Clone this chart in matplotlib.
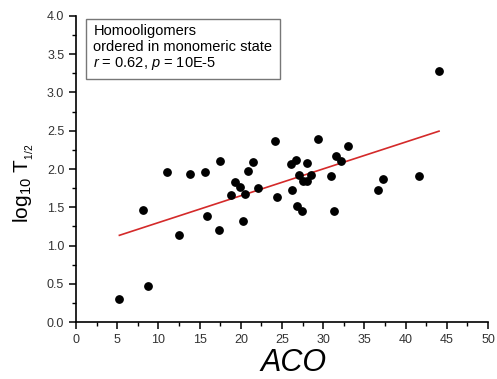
import numpy as np
import matplotlib.pyplot as plt
from matplotlib.ticker import MultipleLocator

plt.rcParams['font.family'] = ['Liberation Sans', 'DejaVu Sans']
plt.rcParams['mathtext.fontset'] = 'custom'
plt.rcParams['mathtext.rm'] = 'Liberation Sans'
plt.rcParams['mathtext.it'] = 'Liberation Sans:italic'

# ACO vs log10 T1/2 for homooligomers
aco = [5.26, 8.78, 8.09, 11.0, 12.5, 13.83, 15.6, 15.9, 17.5, 17.3,
       18.8, 19.3, 19.9, 20.5, 20.3, 20.9, 21.5, 22.1, 24.2, 24.4,
       44.05, 29.4, 33.05, 31.5, 32.2, 26.05, 26.7, 28.0, 27.06, 27.6,
       28.0, 28.56, 30.9, 26.2, 26.86, 27.4, 31.3, 36.6, 37.3, 41.6]
logt = [0.30, 0.476, 1.47, 1.96, 1.14, 1.93, 1.96, 1.39, 2.10, 1.20,
        1.665, 1.835, 1.77, 1.68, 1.32, 1.97, 2.09, 1.75, 2.37, 1.63,
        3.28, 2.39, 2.30, 2.175, 2.105, 2.07, 2.12, 2.08, 1.92, 1.85,
        1.84, 1.92, 1.905, 1.72, 1.52, 1.45, 1.45, 1.72, 1.865, 1.905]

x = np.array(aco)
y = np.array(logt)
k, b = np.polyfit(x, y, 1)
xf = np.array([x.min(), x.max()])

fig = plt.figure(figsize=(4.97, 3.79), dpi=100)
ax = fig.add_axes([0.153, 0.150, 0.829, 0.808])

ax.plot(xf, k * xf + b, color='#d42a2a', lw=1.2, zorder=2)
ax.scatter(x, y, s=28, color='black', zorder=3)

ax.set_xlim(0, 50)
ax.set_ylim(0, 4)
ax.xaxis.set_major_locator(MultipleLocator(5))
ax.xaxis.set_minor_locator(MultipleLocator(2.5))
ax.yaxis.set_major_locator(MultipleLocator(0.5))
ax.yaxis.set_minor_locator(MultipleLocator(0.25))
ax.yaxis.set_major_formatter(plt.FuncFormatter(lambda v, p: f'{v:.1f}'))

for s in ['top', 'right']:
    ax.spines[s].set_visible(False)
for s in ['left', 'bottom']:
    ax.spines[s].set_linewidth(1.2)
ax.tick_params(which='major', direction='out', length=5, width=1.1,
               labelsize=9, labelcolor='#333333')
ax.tick_params(which='minor', direction='out', length=3, width=1.0)

ax.set_xlabel('ACO', fontsize=22, style='italic', labelpad=0)
ax.xaxis.set_label_coords(0.527, -0.083)
ax.set_ylabel(r'log$_{10}$ T$_{_{1/2}}$', fontsize=15)
ax.yaxis.set_label_coords(-0.097, 0.455)

ax.text(0.042, 0.972,
        'Homooligomers\nordered in monomeric state\n$r$ = 0.62, $p$ = 10E-5',
        transform=ax.transAxes, fontsize=10.5, va='top', ha='left',
        linespacing=1.1,
        bbox=dict(boxstyle='square,pad=0.5', fc='white', ec='#777777', lw=1))

fig.savefig('out.png', dpi=100)
